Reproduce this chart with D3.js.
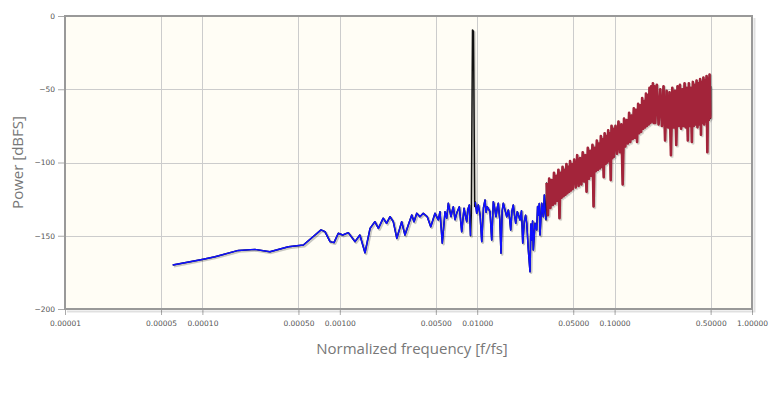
<!DOCTYPE html>
<html>
    <head>
        <meta charset="utf-8">
        <title>Spectrum</title>
        <style>
            body { margin: 0; background: #fff; }
            .tick text { font-family: "DejaVu Sans", Verdana, sans-serif; font-size: 7.5px; fill: #555; }
            .ttl { font-family: "Open Sans", sans-serif; font-size: 15px; fill: #777; }
        </style>
    </head>
    <body>
        <svg id="chart" width="777" height="394"></svg>

        <script src="https://d3js.org/d3.v7.min.js"></script>
        <script>
            // tick values
            const xTicks = [0.00001, 0.00005, 0.0001, 0.0005, 0.001, 0.005, 0.01, 0.05, 0.1, 0.5, 1];
            const yTicks = [0, -50, -100, -150, -200];

            // in-band noise (blue), null = gap at the tone
            const bluePts = [
                [6.08e-5, -170], [1.015e-4, -166], [1.235e-4, -164.3], [1.825e-4, -160], [2.41e-4, -159.3],
                [3.1e-4, -160.9], [4.22e-4, -157.5], [5.43e-4, -156.3], [6.6e-4, -149.5], [7.3e-4, -146],
                [7.8e-4, -147.2], [8.49e-4, -154], [9.07e-4, -154.7], [9.75e-4, -148.3], [1.05e-3, -149.5],
                [1.153e-3, -147.9], [1.29e-3, -154], [1.40e-3, -149.5], [1.525e-3, -161.6], [1.66e-3, -145],
                [1.80e-3, -140.4], [1.91e-3, -145], [2.07e-3, -138], [2.19e-3, -141.5], [2.32e-3, -137],
                [2.45e-3, -140.4], [2.60e-3, -151.8], [2.71e-3, -146], [2.82e-3, -140.4], [2.98e-3, -149.5],
                [3.15e-3, -142.7], [3.34e-3, -135.8], [3.47e-3, -140.4], [3.63e-3, -134.7], [3.83e-3, -137],
                [4.05e-3, -134.7], [4.33e-3, -137], [4.59e-3, -143.8], [4.93e-3, -134.7], [5.21e-3, -139.2],
                [5.36e-3, -133.6], [5.57e-3, -155], [5.83e-3, -133.6], [6.0e-3, -138], [6.16e-3, -127.8],
                [6.45e-3, -137], [6.58e-3, -133], [6.70e-3, -130.2], [6.9e-3, -139], [7.09e-3, -134.7],
                [7.41e-3, -130.2], [7.71e-3, -147.2], [8.02e-3, -131.3], [8.2e-3, -136], [8.39e-3, -140.4],
                [8.55e-3, -132], [8.76e-3, -129], [8.94e-3, -150],
                null,
                [9.69e-3, -127], [9.92e-3, -134.7], [1.019e-2, -129], [1.05e-2, -136], [1.079e-2, -154],
                [1.11e-2, -131], [1.140e-2, -125.6], [1.16e-2, -134], [1.184e-2, -130.2], [1.239e-2, -133.6],
                [1.275e-2, -152.9], [1.310e-2, -126.8], [1.34e-2, -131], [1.370e-2, -137], [1.40e-2, -131],
                [1.424e-2, -127.8], [1.46e-2, -139], [1.490e-2, -162], [1.52e-2, -133], [1.549e-2, -127.8],
                [1.59e-2, -132], [1.640e-2, -137], [1.684e-2, -132.4], [1.72e-2, -138], [1.753e-2, -146],
                [1.79e-2, -133], [1.831e-2, -129], [1.87e-2, -136], [1.906e-2, -141.5], [1.958e-2, -133.6],
                [2.0e-2, -136], [2.049e-2, -139.2], [2.10e-2, -133], [2.144e-2, -155], [2.202e-2, -140.4],
                [2.25e-2, -136], [2.293e-2, -141.5], [2.355e-2, -159.7], [2.423e-2, -174.5], [2.46e-2, -142],
                [2.493e-2, -152.9], [2.53e-2, -140], [2.561e-2, -159.7], [2.635e-2, -141.5], [2.710e-2, -146],
                [2.75e-2, -130], [2.784e-2, -135.8], [2.83e-2, -128], [2.865e-2, -149.5], [2.948e-2, -127.8],
                [3.028e-2, -137], [3.080e-2, -122.2], [3.12e-2, -133], [3.168e-2, -139.2]
            ];

            // the tone (black)
            const peakPts = [[0.00906, -135], [0.00924, -9.5], [0.0094, -10.5], [0.00959, -130]];

            // out-of-band noise (red)
            const redPts = [
                [0.0320, -114], [0.0327, -136], [0.0334, -111], [0.0341, -131], [0.0348, -112], [0.0355, -129],
                [0.0362, -107], [0.0369, -128], [0.0376, -109], [0.0383, -126], [0.0390, -105], [0.0397, -138],
                [0.0404, -107], [0.0411, -124], [0.0418, -103], [0.0425, -123], [0.0432, -105], [0.0439, -122],
                [0.0446, -101], [0.0453, -121], [0.0460, -103], [0.0467, -120], [0.0474, -99], [0.0481, -119],
                [0.0488, -101], [0.0495, -118],
                [0.0508, -98], [0.0521, -117], [0.0534, -95], [0.0547, -116], [0.0560, -97], [0.0573, -115],
                [0.0586, -93], [0.0599, -113], [0.0612, -95], [0.0625, -120], [0.0638, -90], [0.0651, -111],
                [0.0664, -92], [0.0677, -109], [0.0690, -88], [0.0703, -130], [0.0716, -90], [0.0729, -106],
                [0.0742, -85], [0.0755, -105], [0.0768, -87], [0.0781, -104], [0.0794, -82], [0.0807, -103],
                [0.0820, -84], [0.0833, -110], [0.0846, -80], [0.0859, -101], [0.0872, -82], [0.0885, -100],
                [0.0898, -78], [0.0911, -99], [0.0924, -80], [0.0937, -112], [0.0950, -75], [0.0963, -97],
                [0.0976, -77], [0.0989, -96],
                [0.1015, -75], [0.1041, -94], [0.1067, -72], [0.1093, -93], [0.1119, -74], [0.1145, -115],
                [0.1171, -70], [0.1197, -89], [0.1223, -71], [0.1249, -87], [0.1275, -66], [0.1301, -86],
                [0.1327, -68], [0.1353, -84], [0.1379, -63], [0.1405, -83], [0.1431, -64], [0.1457, -86],
                [0.1483, -60], [0.1509, -80], [0.1535, -61], [0.1561, -79], [0.1587, -56], [0.1613, -77],
                [0.1639, -58], [0.1665, -76], [0.1691, -53], [0.1717, -75], [0.1743, -54], [0.1769, -74],
                [0.1795, -49], [0.1821, -73], [0.1847, -48], [0.1873, -72], [0.1899, -46], [0.1925, -73],
                [0.1951, -48], [0.1977, -73],
                [0.203, -47], [0.209, -74], [0.215, -50], [0.221, -75], [0.227, -48], [0.233, -85],
                [0.239, -51], [0.245, -76], [0.251, -52], [0.257, -95], [0.263, -49], [0.269, -76],
                [0.275, -51], [0.281, -88], [0.287, -48], [0.293, -75], [0.299, -47], [0.305, -77],
                [0.311, -50], [0.317, -75], [0.323, -46], [0.329, -76], [0.335, -49], [0.341, -85],
                [0.347, -46], [0.353, -75], [0.359, -49], [0.365, -86], [0.371, -45], [0.377, -75],
                [0.383, -47], [0.389, -74], [0.395, -44], [0.401, -76], [0.407, -46], [0.413, -74],
                [0.419, -43], [0.425, -81], [0.431, -45], [0.437, -73], [0.443, -42], [0.449, -74],
                [0.455, -44], [0.461, -72], [0.467, -41], [0.473, -93], [0.479, -43], [0.485, -71],
                [0.491, -40], [0.497, -70]
            ];
            const tailPts = [[0.4995, -67], [0.5, -48]];

            const mLeft = 65, mRight = 752, mTop = 16, mBottom = 309;

            const svg = d3.select("#chart");

            const x = d3.scaleLog().domain([1e-5, 1]).range([mLeft, mRight]);
            const y = d3.scaleLinear().domain([-200, 0]).range([mBottom, mTop]);

            // plot background
            svg.append("rect")
                .attr("x", mLeft).attr("y", mTop)
                .attr("width", mRight - mLeft).attr("height", mBottom - mTop)
                .attr("fill", "#fffdf5");

            // grid
            svg.append("g").selectAll("line")
                .data(xTicks.slice(1, -1))
                .enter().append("line")
                  .attr("x1", d => Math.round(x(d)) + 0.5).attr("x2", d => Math.round(x(d)) + 0.5)
                  .attr("y1", mTop).attr("y2", mBottom)
                  .attr("stroke", "#cccccc");
            svg.append("g").selectAll("line")
                .data(yTicks.slice(1, -1))
                .enter().append("line")
                  .attr("y1", d => Math.round(y(d)) + 0.5).attr("y2", d => Math.round(y(d)) + 0.5)
                  .attr("x1", mLeft).attr("x2", mRight)
                  .attr("stroke", "#cccccc");

            // axes
            const xAxis = svg.append("g")
                .attr("transform", `translate(0,${mBottom + 1})`)
                .call(d3.axisBottom(x)
                    .tickValues(xTicks)
                    .tickFormat(d3.format(".5f"))
                    .tickSize(5)
                    .tickPadding(6));
            xAxis.select(".domain").remove();
            xAxis.selectAll(".tick line").attr("stroke", "#aaa");

            const yAxis = svg.append("g")
                .attr("transform", `translate(${mLeft - 1},0)`)
                .call(d3.axisLeft(y)
                    .tickValues(yTicks)
                    .tickSize(6)
                    .tickPadding(3));
            yAxis.select(".domain").remove();
            yAxis.selectAll(".tick line").attr("stroke", "#aaa");

            // series
            svg.append("clipPath").attr("id", "plot-clip")
                .append("rect")
                  .attr("x", mLeft).attr("y", mTop)
                  .attr("width", mRight - mLeft).attr("height", mBottom - mTop);

            const line = d3.line()
                .defined(d => d !== null)
                .x(d => x(d[0]))
                .y(d => y(d[1]));

            const blackPts = bluePts.filter(d => d !== null)
                .concat(peakPts)
                .sort((a, b) => a[0] - b[0])
                .concat(redPts, tailPts);

            const series = [
                { data: blackPts, color: "#111111", width: 1.5, shadow: 0.12 },
                { data: bluePts, color: "#1010ff", width: 1.5, shadow: 0.1 },
                { data: redPts, color: "#a3243a", width: 2.6, shadow: 0.07 }
            ];

            const gs = svg.append("g").attr("clip-path", "url(#plot-clip)");

            series.forEach(s => {
                gs.append("path")
                    .attr("d", line(s.data))
                    .attr("fill", "none")
                    .attr("stroke", `rgba(0,0,0,${s.shadow})`)
                    .attr("stroke-width", s.width + 1)
                    .attr("stroke-linejoin", "round")
                    .attr("transform", "translate(1.2,1.2)");
                gs.append("path")
                    .attr("d", line(s.data))
                    .attr("fill", "none")
                    .attr("stroke", s.color)
                    .attr("stroke-width", s.width)
                    .attr("stroke-linejoin", "round");
            });

            // border with shadow
            svg.append("path")
                .attr("d", `M${mLeft + 2},${mBottom + 2.5}H${mRight + 2.5}V${mTop + 2}`)
                .attr("fill", "none")
                .attr("stroke", "rgba(0,0,0,0.12)")
                .attr("stroke-width", 2);
            svg.append("rect")
                .attr("x", mLeft).attr("y", mTop)
                .attr("width", mRight - mLeft).attr("height", mBottom - mTop)
                .attr("fill", "none")
                .attr("stroke", "#999")
                .attr("stroke-width", 2);

            // axis titles
            svg.append("text")
                .attr("class", "ttl")
                .attr("x", 412)
                .attr("y", 354)
                .attr("text-anchor", "middle")
                .text("Normalized frequency [f/fs]");

            svg.append("text")
                .attr("class", "ttl")
                .attr("transform", `translate(23,${(mTop + mBottom) / 2}) rotate(-90)`)
                .attr("text-anchor", "middle")
                .text("Power [dBFS]");
        </script>
    </body>
</html>
